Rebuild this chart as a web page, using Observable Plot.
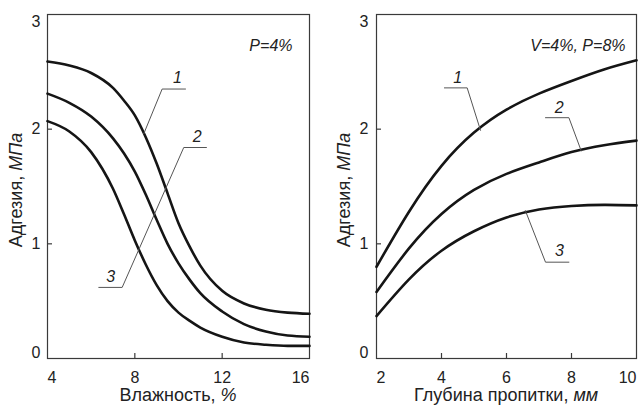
<!DOCTYPE html>
<html><head><meta charset="utf-8">
<script src="https://cdn.jsdelivr.net/npm/d3@7"></script>
<script src="https://cdn.jsdelivr.net/npm/@observablehq/plot@0.6"></script>
<style>
body{margin:0;background:#fff;}
#wrap{position:relative;width:639px;height:409px;overflow:hidden;}
#left{position:absolute;left:0;top:0;}
#right{position:absolute;left:320px;top:0;}
svg text{font-family:"Liberation Sans",Arial,Helvetica,sans-serif;}
</style></head><body>
<div id="wrap"><div id="left"></div><div id="right"></div></div>
<script>
// ---- Left panel: adhesion vs humidity ----
const humidity = [4,5,6,7,7.5,8,8.5,9,9.5,10,10.5,11,12,13,14,15,16];
const leftCurve1 = [2.59,2.555,2.49,2.36,2.25,2.12,1.93,1.70,1.44,1.18,0.98,0.81,0.59,0.48,0.425,0.40,0.39];
const leftCurve2 = [2.31,2.23,2.11,1.92,1.79,1.63,1.43,1.21,1.00,0.83,0.69,0.57,0.41,0.30,0.235,0.20,0.19];
const leftCurve3 = [2.07,1.98,1.80,1.48,1.26,1.03,0.82,0.64,0.50,0.40,0.33,0.27,0.19,0.14,0.12,0.11,0.11];
const leftXTicks = [4,8,12,16];
const leftNote = "P=4%";
const leftXTitle = ["Влажность, ", "%"];
// leader lines (data coordinates)
const leftLeaderId = ["a","a","a","b","b","b","b"];
const leftLeaderX = [8.41,9.25,10.32, 11.28,10.24,7.42,6.35];
const leftLeaderY = [1.96,2.35,2.35, 1.84,1.84,0.62,0.62];
const leftLabelText = ["1","2","3"];
const leftLabelX = [9.95,10.86,6.89];
const leftLabelY = [2.45,1.93,0.71];

// ---- Right panel: adhesion vs impregnation depth ----
const depth = [2,3,4,5,6,7,8,9,10];
const rightCurve1 = [0.80,1.28,1.68,1.97,2.17,2.31,2.42,2.52,2.60];
const rightCurve2 = [0.58,0.96,1.26,1.47,1.61,1.71,1.80,1.86,1.90];
const rightCurve3 = [0.37,0.69,0.94,1.11,1.23,1.30,1.33,1.34,1.335];
const rightXTicks = [2,4,6,8,10];
const rightNote = "V=4%, P=8%";
const rightXTitle = ["Глубина пропитки, ", "мм"];
const rightLeaderId = ["a","a","a","b","b","b","c","c","c"];
const rightLeaderX = [4.09,4.79,5.2, 7.2,7.92,8.3, 6.58,7.2,7.92];
const rightLeaderY = [2.36,2.36,1.99, 2.10,2.10,1.81, 1.29,0.84,0.84];
const rightLabelText = ["1","2","3"];
const rightLabelX = [4.50,7.62,7.63];
const rightLabelY = [2.45,2.19,0.94];

const yTitle = ["Адгезия, ", "МПа"];
const curveNames = ["1","2","3"];

function rows(xs, series){
  const out = [];
  series.forEach((ys, i) => ys.forEach((y, j) => out.push({x: xs[j], y, s: curveNames[i]})));
  return out;
}
function zipRows(ids, xs, ys){ return ids.map((id, i) => ({id, x: xs[i], y: ys[i]})); }

function panel(cfg){
  const fs = 16;
  const fmt = d => String(d);
  const inner = cfg.xTicks.slice(1, -1);
  const first = cfg.xTicks[0], last = cfg.xTicks[cfg.xTicks.length - 1];
  const plot = Plot.plot({
    width: cfg.width, height: 409,
    marginLeft: cfg.ml, marginRight: cfg.mr, marginTop: 14, marginBottom: 51,
    style: {fontFamily: '"Liberation Sans", Arial, sans-serif', fontSize: fs + "px", color: "#222", background: "#fff"},
    x: {domain: [first, last]},
    y: {domain: [0, 3]},
    marks: [
      Plot.frame({stroke: "#3a3a3a", strokeWidth: 1.2}),
      // inward ticks
      Plot.axisX(inner, {tickSize: -5, tickFormat: () => "", stroke: "#3a3a3a", strokeWidth: 1.2, label: null}),
      Plot.axisY([1, 2], {tickSize: -5, tickFormat: () => "", stroke: "#3a3a3a", strokeWidth: 1.2, label: null}),
      // tick labels
      Plot.axisX(inner, {tickSize: 0, tickPadding: 13, fontSize: fs, tickFormat: fmt, label: null, fill: "#222"}),
      Plot.axisX([first], {tickSize: 0, tickPadding: 13, fontSize: fs, tickFormat: fmt, textAnchor: "start", label: null, fill: "#222"}),
      Plot.axisX([last], {tickSize: 0, tickPadding: 13, fontSize: fs, tickFormat: fmt, textAnchor: "end", label: null, fill: "#222"}),
      Plot.axisY([1, 2], {tickSize: 0, tickPadding: cfg.yPad, fontSize: fs, tickFormat: fmt, label: null, fill: "#222"}),
      Plot.axisY([3], {tickSize: 0, tickPadding: cfg.yPad, fontSize: fs, tickFormat: fmt, dy: 7, label: null, fill: "#222"}),
      Plot.axisY([0], {tickSize: 0, tickPadding: cfg.yPad, fontSize: fs, tickFormat: fmt, dy: -6, label: null, fill: "#222"}),
      // curves
      Plot.line(cfg.data, {x: "x", y: "y", z: "s", curve: cfg.curve, stroke: "#151515", strokeWidth: 2.6}),
      // leaders
      Plot.line(cfg.leaders, {x: "x", y: "y", z: "id", stroke: "#555", strokeWidth: 1}),
      Plot.text(cfg.labels, {x: "x", y: "y", text: "t", fontStyle: "italic", fontSize: fs, fill: "#222"}),
      Plot.text([cfg.note], {frameAnchor: "top-right", textAnchor: "end", dx: cfg.noteDx, dy: 25, fontStyle: "italic", fontSize: fs, fill: "#222"})
    ]
  });
  const svg = d3.select(plot);
  // axis titles with italic units
  const xt = svg.append("text").attr("x", cfg.xTitleX).attr("y", 396).attr("text-anchor", "middle")
    .attr("dominant-baseline", "middle").style("font-size", "18px").attr("fill", "#222");
  xt.append("tspan").text(cfg.xTitle[0]);
  xt.append("tspan").style("font-style", "italic").text(cfg.xTitle[1]);
  const yt = svg.append("text").attr("transform", `translate(${cfg.yTitleX},190) rotate(-90)`)
    .attr("text-anchor", "middle").attr("dominant-baseline", "middle").style("font-size", "18px").attr("fill", "#222");
  yt.append("tspan").text(yTitle[0]);
  yt.append("tspan").style("font-style", "italic").text(yTitle[1]);
  return plot;
}

document.getElementById("left").append(panel({
  width: 320, ml: 47, mr: 11, yPad: 7, noteDx: -17, note: leftNote, curve: "monotone-x",
  xTicks: leftXTicks, xTitle: leftXTitle, xTitleX: 178, yTitleX: 17,
  data: rows(humidity, [leftCurve1, leftCurve2, leftCurve3]),
  leaders: zipRows(leftLeaderId, leftLeaderX, leftLeaderY),
  labels: leftLabelText.map((t, i) => ({t, x: leftLabelX[i], y: leftLabelY[i]}))
}));
document.getElementById("right").append(panel({
  width: 319, ml: 56, mr: 3, yPad: 8, noteDx: -11, note: rightNote, curve: "natural",
  xTicks: rightXTicks, xTitle: rightXTitle, xTitleX: 186, yTitleX: 25,
  data: rows(depth, [rightCurve1, rightCurve2, rightCurve3]),
  leaders: zipRows(rightLeaderId, rightLeaderX, rightLeaderY),
  labels: rightLabelText.map((t, i) => ({t, x: rightLabelX[i], y: rightLabelY[i]}))
}));
</script>
</body></html>
